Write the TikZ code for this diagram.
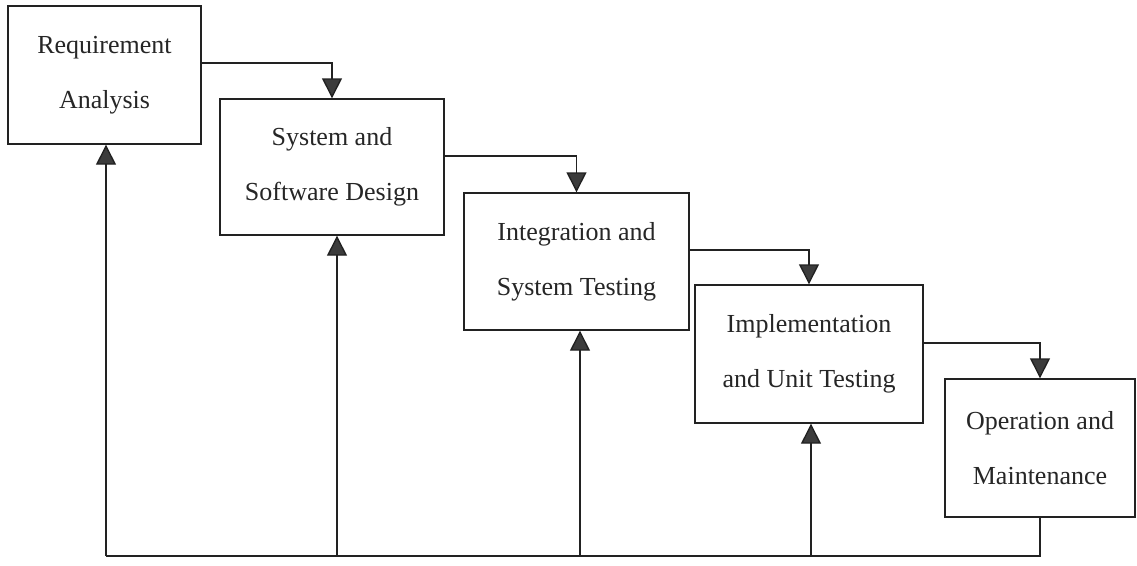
\documentclass[tikz,border=0pt]{standalone}
\usepackage{fontspec}
\setmainfont{Liberation Serif}
\usetikzlibrary{arrows.meta}
\definecolor{tipgray}{HTML}{3C3C3C}
\definecolor{linegray}{HTML}{222222}
\tikzset{
  phase/.style={draw=linegray, line width=1.4pt, fill=white, align=center,
    inner sep=0pt, font=\fontsize{26}{55}\selectfont, text=black!85},
  flow/.style={draw=linegray, line width=1.4pt,
    -{Triangle[width=20pt,length=20pt,fill=tipgray]}},
  plain/.style={draw=linegray, line width=1.4pt}
}
\begin{document}
\begin{tikzpicture}[x=1pt,y=-1pt]
\useasboundingbox (0,0) rectangle (1137,565);
\node[phase, minimum width=193pt, minimum height=138pt] (b1) at (104.5,75) {Requirement\\Analysis};
\node[phase, minimum width=224pt, minimum height=136pt] (b2) at (332,167) {System and\\Software Design};
\node[phase, minimum width=225pt, minimum height=137pt] (b3) at (576.5,261.5) {Integration and\\System Testing};
\node[phase, minimum width=228pt, minimum height=138pt] (b4) at (809,354) {Implementation\\and Unit Testing};
\node[phase, minimum width=190pt, minimum height=138pt] (b5) at (1040,448) {Operation and\\Maintenance};
\coordinate (bot) at (0,556);
% forward flow
\draw[flow] (b1.east |- 0,63) -| (b2.north);
\draw[flow] (b2.east |- 0,156) -| (b3.north);
\draw[flow] (b3.east |- 0,250) -| (b4.north);
\draw[flow] (b4.east |- 0,343) -| (b5.north);
% feedback
\draw[plain] (b5.south) |- ([xshift=1.5pt]b1.south |- bot);
\draw[flow] ([xshift=1.5pt]b1.south |- bot) -- ([xshift=1.5pt]b1.south);
\draw[flow] ([xshift=5pt]b2.south |- bot) -- ([xshift=5pt]b2.south);
\draw[flow] ([xshift=3.5pt]b3.south |- bot) -- ([xshift=3.5pt]b3.south);
\draw[flow] ([xshift=2pt]b4.south |- bot) -- ([xshift=2pt]b4.south);
\end{tikzpicture}
\end{document}
